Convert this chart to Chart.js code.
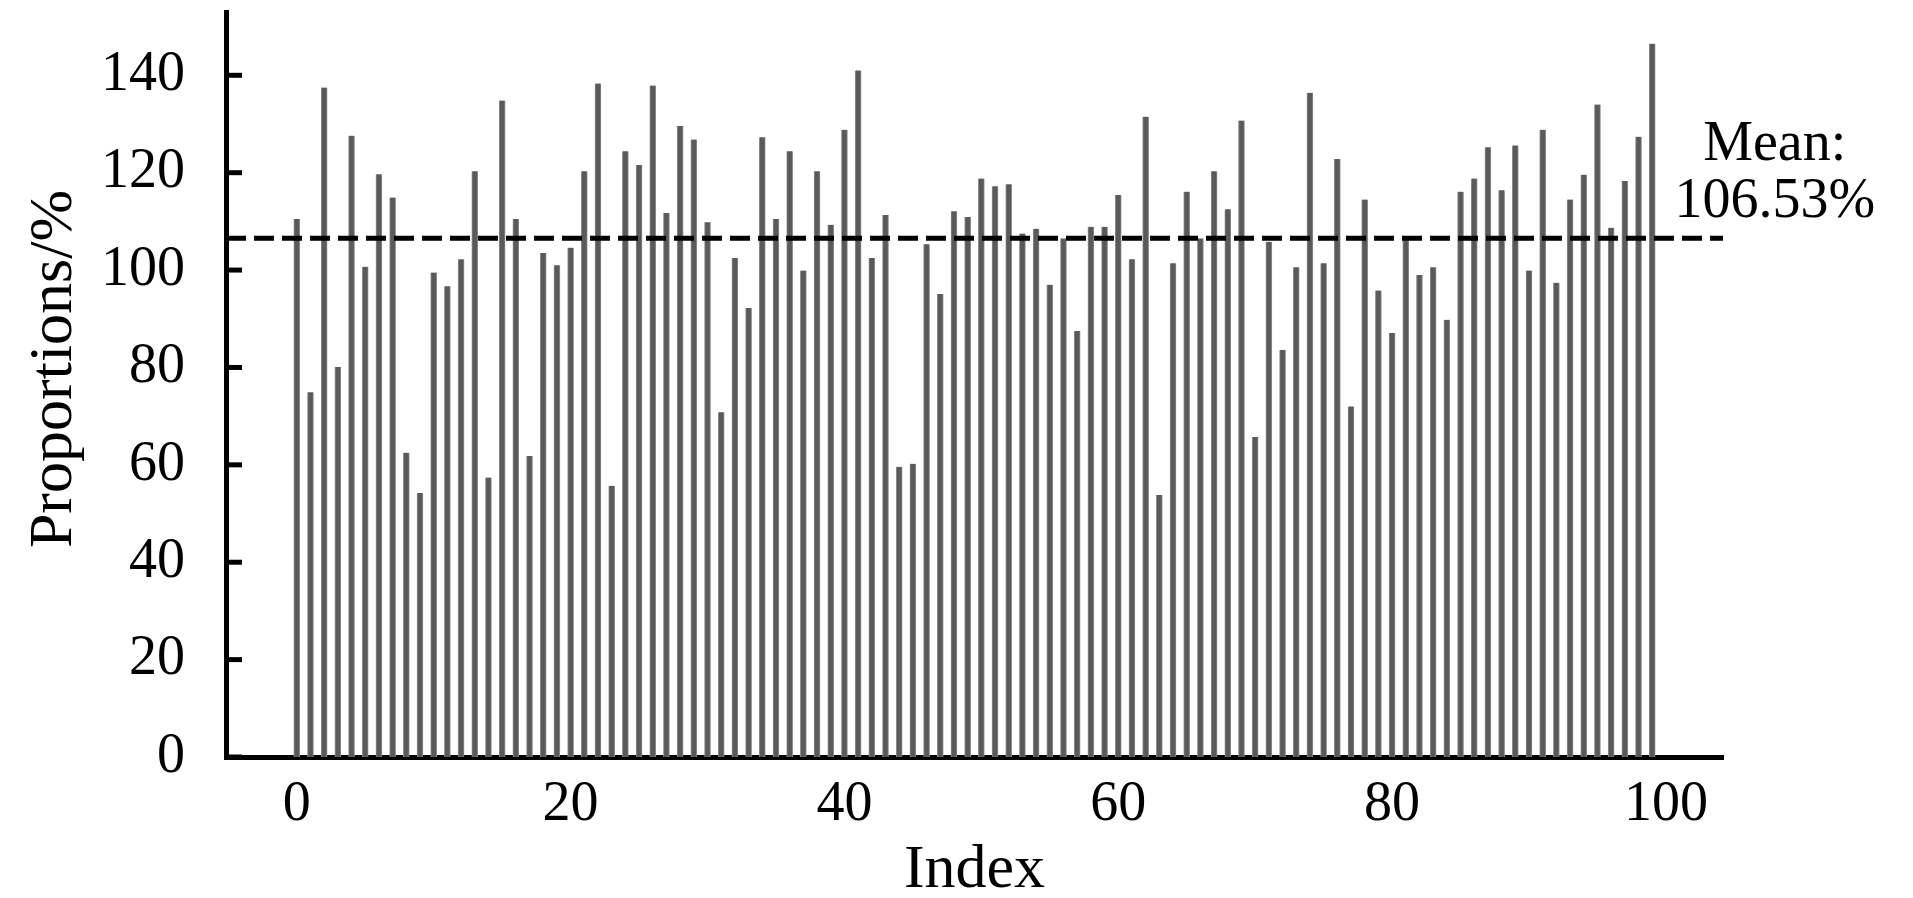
<!DOCTYPE html>
<html>
<head>
<meta charset="utf-8">
<script src="https://cdn.jsdelivr.net/npm/chart.js@4.4.1/dist/chart.umd.min.js"></script>
<style>
  html, body { margin: 0; padding: 0; background: #fff; }
  canvas { display: block; }
</style>
</head>
<body>
<canvas id="proportions" width="1913" height="898"></canvas>
<script>
// proportion values, one bar per index
const proportions = [
  110.5, 74.9, 137.5, 80.1, 127.6, 100.7, 119.7, 114.9, 62.5, 54.2,
  99.5, 96.7, 102.2, 120.3, 57.4, 134.8, 110.5, 61.8, 103.5, 101.0,
  104.6, 120.3, 138.3, 55.7, 124.4, 121.6, 137.9, 111.7, 129.6, 126.8,
  109.8, 70.8, 102.5, 92.2, 127.3, 110.5, 124.4, 99.9, 120.3, 109.3,
  128.8, 141.0, 102.5, 111.3, 59.6, 60.2, 105.3, 95.1, 112.1, 110.9,
  118.8, 117.2, 117.6, 107.5, 108.5, 97.0, 106.5, 87.5, 108.9, 108.9,
  115.4, 102.2, 131.5, 53.8, 101.4, 116.1, 106.5, 120.3, 112.5, 130.7,
  65.7, 105.8, 83.6, 100.6, 136.4, 101.4, 122.8, 72.0, 114.5, 95.8,
  87.1, 106.1, 99.0, 100.6, 89.8, 116.1, 118.8, 125.2, 116.4, 125.6,
  99.9, 128.8, 97.4, 114.5, 119.6, 134.0, 108.7, 118.3, 127.4, 146.5
];
const indices = proportions.map((_, i) => i);
const meanValue = 106.53;
const meanLabel = ['Mean:', '106.53%'];

const xTicks = [0, 20, 40, 60, 80, 100];
const yTicks = [0, 20, 40, 60, 80, 100, 120, 140];

const FONT = '"Liberation Serif", "DejaVu Serif", serif';
const X_MIN = -5.17, X_MAX = 104.17;

// inward y ticks + the mean text (sits outside the plot area on the right)
const extras = {
  id: 'extras',
  afterDraw(chart) {
    const { ctx, chartArea, scales: { x, y } } = chart;
    ctx.save();
    ctx.strokeStyle = '#000';
    ctx.lineWidth = 5;
    yTicks.forEach(v => {
      const py = y.getPixelForValue(v);
      ctx.beginPath();
      ctx.moveTo(chartArea.left, py);
      ctx.lineTo(chartArea.left + 16, py);
      ctx.stroke();
    });

    ctx.fillStyle = '#000';
    ctx.font = `56px ${FONT}`;
    ctx.textAlign = 'center';
    ctx.textBaseline = 'alphabetic';
    const tx = x.getPixelForValue(107.95);
    ctx.fillText(meanLabel[0], tx, y.getPixelForValue(122.6));
    ctx.fillText(meanLabel[1], tx, y.getPixelForValue(111.0));
    ctx.restore();
  }
};

// fixed box sizes, and no extra room kept for half tick labels
const fixBox = (w, h) => s => {
  if (w !== null) s.width = w;
  if (h !== null) s.height = h;
  s.paddingTop = s.paddingBottom = s.paddingLeft = s.paddingRight = 0;
};

new Chart(document.getElementById('proportions').getContext('2d'), {
  type: 'bar',
  data: {
    datasets: [
      {
        type: 'line',
        data: [{ x: X_MIN, y: meanValue }, { x: X_MAX, y: meanValue }],
        borderColor: '#000',
        borderWidth: 5,
        borderDash: [20, 8],
        pointRadius: 0,
        fill: false,
        order: 0
      },
      {
        data: indices.map((i) => ({ x: i, y: proportions[i] })),
        backgroundColor: '#5a5a5a',
        borderColor: '#8c8c8c',
        borderWidth: { left: 1, right: 1, top: 0, bottom: 0 },
        barThickness: 6,
        order: 1
      }
    ]
  },
  options: {
    responsive: false,
    animation: false,
    devicePixelRatio: 1,
    layout: { autoPadding: false, padding: { top: 12, right: 190, bottom: 0, left: 0 } },
    plugins: {
      legend: { display: false },
      tooltip: { enabled: false }
    },
    scales: {
      x: {
        type: 'linear',
        min: X_MIN,
        max: X_MAX,
        offset: false,
        z: 1,
        afterBuildTicks: s => { s.ticks = xTicks.map(v => ({ value: v })); },
        afterFit: fixBox(null, 141),
        grid: { display: false, drawTicks: false, offset: false },
        border: { display: true, color: '#000', width: 5 },
        ticks: {
          color: '#000',
          padding: 20,
          maxRotation: 0,
          font: { family: FONT, size: 56, lineHeight: 1 }
        },
        title: {
          display: true,
          text: 'Index',
          color: '#000',
          padding: { top: 0, bottom: -4 },
          font: { family: FONT, size: 62, lineHeight: 1 }
        }
      },
      y: {
        min: 0,
        max: 153,
        z: 1,
        afterBuildTicks: s => { s.ticks = yTicks.map(v => ({ value: v })); },
        afterFit: fixBox(226, null),
        grid: { display: false, drawTicks: false },
        border: { display: true, color: '#000', width: 5 },
        ticks: {
          color: '#000',
          padding: 41,
          font: { family: FONT, size: 56, lineHeight: 1 }
        },
        title: {
          display: true,
          text: '  Proportions/%', // leading spaces nudge it up a little, like the original
          color: '#000',
          padding: { top: 24, bottom: 0 },
          font: { family: FONT, size: 62, lineHeight: 1 }
        }
      }
    }
  },
  plugins: [extras]
});
</script>
</body>
</html>
